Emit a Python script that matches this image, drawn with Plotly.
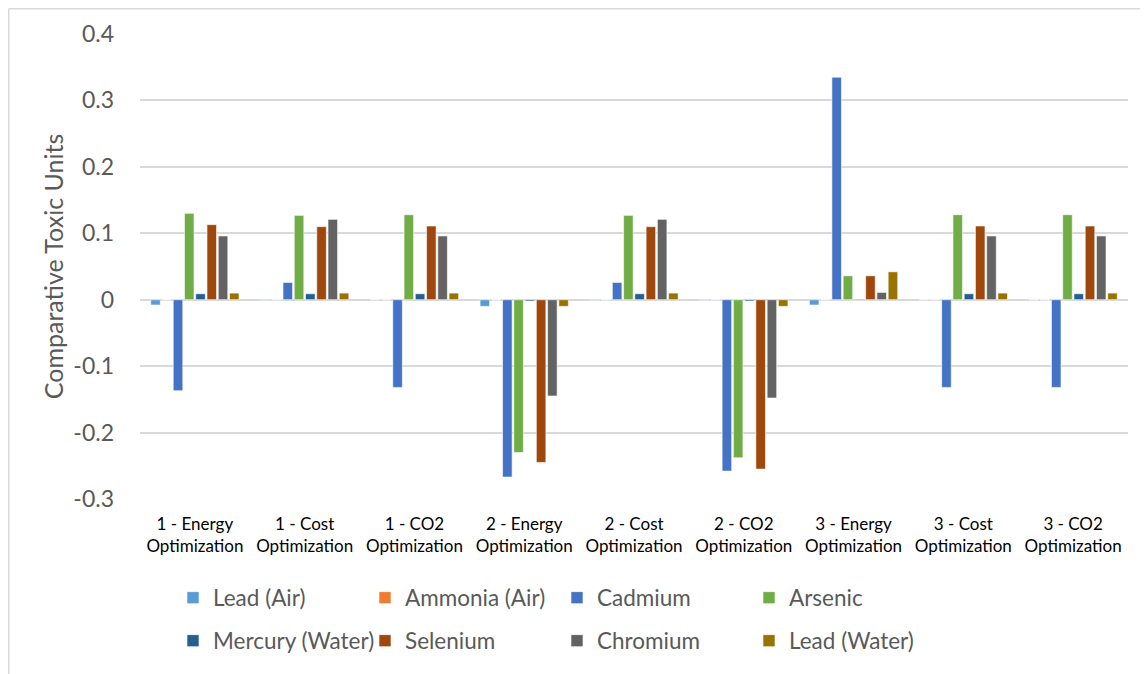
import plotly.graph_objects as go

categories = ["1 - Energy<br>Optimization", "1 - Cost<br>Optimization", "1 - CO2<br>Optimization",
              "2 - Energy<br>Optimization", "2 - Cost<br>Optimization", "2 - CO2<br>Optimization",
              "3 - Energy<br>Optimization", "3 - Cost<br>Optimization", "3 - CO2<br>Optimization"]

lead_air =     [-0.008, -0.001, 0.0,   -0.010, -0.001, -0.001, -0.008, 0.0,   0.0]
ammonia_air =  [0.0,    0.0,    0.0,    0.0,    0.0,    0.0,    0.0,   0.0,   0.0]
cadmium =      [-0.137, 0.026, -0.132, -0.267,  0.026, -0.258,  0.335, -0.132, -0.132]
arsenic =      [0.130,  0.127,  0.128, -0.230,  0.127, -0.238,  0.036, 0.128, 0.128]
mercury =      [0.009,  0.009,  0.009, -0.002,  0.009, -0.002,  0.001, 0.009, 0.009]
selenium =     [0.113,  0.110,  0.111, -0.245,  0.110, -0.255,  0.036, 0.111, 0.111]
chromium =     [0.096,  0.121,  0.096, -0.145,  0.121, -0.148,  0.011, 0.096, 0.096]
lead_water =   [0.010,  0.010,  0.010, -0.010,  0.010, -0.010,  0.042, 0.010, 0.010]

series_names = ["Lead (Air)", "Ammonia (Air)", "Cadmium", "Arsenic",
                "Mercury (Water)", "Selenium", "Chromium", "Lead (Water)"]
series_values = [lead_air, ammonia_air, cadmium, arsenic, mercury, selenium, chromium, lead_water]
series_colors = ["#5B9BD5", "#ED7D31", "#4472C4", "#70AD47", "#255E91", "#9E480E", "#636363", "#997300"]

font_family = "Lato, Carlito, sans-serif"

# the page body has an 8px margin, so the figure sits at (8, 8) in the window
OFF = 8
W, H = 1148 - OFF, 674 - OFF
L, R, T, B = 140 - OFF, 20, 34 - OFF, 175
pw, ph = W - L - R, H - T - B

def px_x(x):
    return (x - OFF - L) / pw

def px_y(y):
    return (H - B - (y - OFF)) / ph

fig = go.Figure()
for i, (name, vals, color) in enumerate(zip(series_names, series_values, series_colors)):
    fig.add_trace(go.Bar(name=name, x=categories, y=vals,
                         legend="legend" if i < 4 else "legend2",
                         marker=dict(color=color, line=dict(color="white", width=0.6))))

legend_common = dict(orientation="h", xanchor="left", yanchor="middle",
                     font=dict(size=22.5, color="#595959", family=font_family),
                     entrywidth=147, entrywidthmode="pixels", bgcolor="rgba(0,0,0,0)")

fig.update_layout(
    width=W, height=H,
    barmode="group", bargap=0.18, bargroupgap=0.15,
    paper_bgcolor="white", plot_bgcolor="white",
    margin=dict(l=L, r=R, t=T, b=B, autoexpand=False),
    font=dict(family=font_family, color="#595959"),
    showlegend=True,
    legend=dict(x=px_x(173), y=px_y(598), **legend_common),
    legend2=dict(x=px_x(173), y=px_y(641), **legend_common),
    shapes=[
        dict(type="line", xref="paper", yref="paper", x0=px_x(OFF + 0.75), x1=px_x(1148), y0=px_y(OFF + 0.75), y1=px_y(OFF + 0.75),
             line=dict(color="#d9d9d9", width=1.5)),
        dict(type="line", xref="paper", yref="paper", x0=px_x(OFF + 0.75), x1=px_x(OFF + 0.75), y0=px_y(OFF + 0.75), y1=px_y(674),
             line=dict(color="#d9d9d9", width=1.5)),
    ],
)
fig.update_yaxes(range=[-0.3, 0.4], tickvals=[-0.3, -0.2, -0.1, 0, 0.1, 0.2, 0.3, 0.4],
                 ticktext=["-0.3", "-0.2", "-0.1", "0", "0.1", "0.2", "0.3", "0.4"],
                 showgrid=True, gridcolor="#d9d9d9", gridwidth=1.5,
                 zeroline=True, zerolinecolor="#d9d9d9", zerolinewidth=1.5,
                 showline=False, ticks="", ticklabelstandoff=25,
                 tickfont=dict(size=23, color="#595959"),
                 title=dict(text="Comparative Toxic Units", font=dict(size=25, color="#595959"), standoff=2))
fig.update_xaxes(showgrid=False, showline=False, ticks="", ticklabelstandoff=13,
                 tickfont=dict(size=17, color="#000000"))

fig.write_html("out.html")
